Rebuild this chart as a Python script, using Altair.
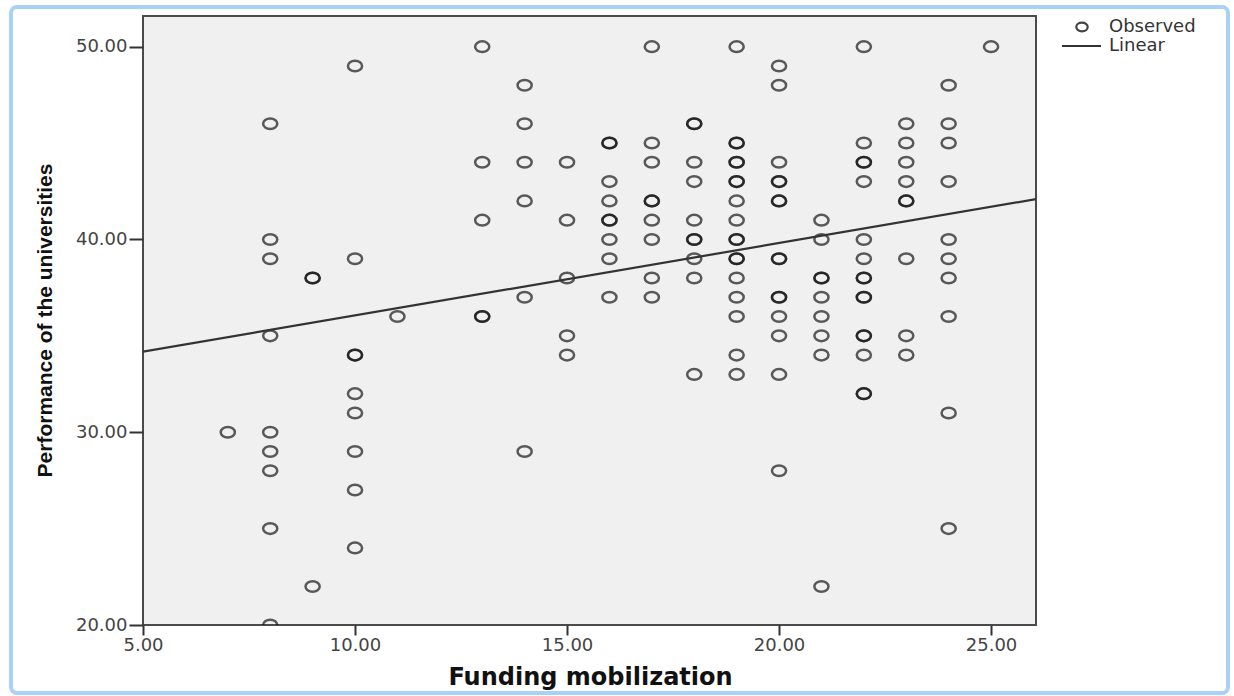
import altair as alt
import pandas as pd

# Observed cases (x = Funding mobilization, y = Performance); repeated pairs = overlapping cases
funding = (
    [7]
    + [8] * 9
    + [9] * 3
    + [10] * 9
    + [11]
    + [13] * 5
    + [14] * 6
    + [15] * 5
    + [16] * 9
    + [17] * 9
    + [18] * 10
    + [19] * 18
    + [20] * 15
    + [21] * 9
    + [22] * 16
    + [23] * 9
    + [24] * 10
    + [25]
)
performance = (
    [30]
    + [46, 40, 39, 35, 30, 29, 28, 25, 20]
    + [38, 38, 22]
    + [49, 39, 34, 34, 32, 31, 29, 27, 24]
    + [36]
    + [50, 44, 41, 36, 36]
    + [48, 46, 44, 42, 37, 29]
    + [44, 41, 38, 35, 34]
    + [45, 45, 43, 42, 41, 41, 40, 39, 37]
    + [50, 45, 44, 42, 42, 41, 40, 38, 37]
    + [46, 46, 44, 43, 41, 40, 40, 39, 38, 33]
    + [50, 45, 45, 44, 44, 43, 43, 42, 41, 40, 40, 39, 39, 38, 37, 36, 34, 33]
    + [49, 48, 44, 43, 43, 42, 42, 39, 39, 37, 37, 36, 35, 33, 28]
    + [41, 40, 38, 38, 37, 36, 35, 34, 22]
    + [50, 45, 44, 44, 43, 40, 39, 38, 38, 37, 37, 35, 35, 34, 32, 32]
    + [46, 45, 44, 43, 42, 42, 39, 35, 34]
    + [48, 46, 45, 43, 40, 39, 38, 36, 31, 25]
    + [50]
)

# Fitted linear line, read at the plot's left and right edges
linear_x = [5.0, 26.06]
linear_y = [34.18, 42.09]

x_ticks = [5, 10, 15, 20, 25]
y_ticks = [20, 30, 40, 50]

obs = pd.DataFrame({"funding": funding, "performance": performance})
lin = pd.DataFrame({"funding": linear_x, "performance": linear_y})

ellipse = "M -1 0 A 1 0.75 0 1 1 1 0 A 1 0.75 0 1 1 -1 0 Z"

x_enc = alt.X(
    "funding:Q",
    scale=alt.Scale(domain=[5, 26.06], nice=False, zero=False),
    axis=alt.Axis(
        values=x_ticks, format=".2f", title="Funding mobilization",
        grid=False, domain=False, tickSize=10, tickWidth=2, tickColor="#333",
        labelFont="DejaVu Sans", labelFontSize=18, labelColor="#444",
        labelPadding=1, labelFlush=False,
        titleFont="DejaVu Sans", titleFontSize=24, titleFontWeight="bold",
        titleColor="#111", titleX=447, titleY=52, titleBaseline="middle",
        titleAlign="center", titleAnchor="start",
    ),
)
y_enc = alt.Y(
    "performance:Q",
    scale=alt.Scale(domain=[20, 51.59], nice=False, zero=False),
    axis=alt.Axis(
        values=y_ticks, format=".2f", title="Performance of the universities",
        grid=False, domain=False, tickSize=14, tickWidth=2, tickColor="#333",
        labelFont="DejaVu Sans", labelFontSize=18, labelColor="#444",
        labelPadding=2, labelFlush=False,
        titleFont="Liberation Sans", titleFontSize=21, titleFontWeight="bold",
        titleColor="#111", titleX=-98, titleY=304, titleAngle=-90,
        titleBaseline="middle", titleAlign="center", titleAnchor="start",
    ),
)

points = alt.Chart(obs).mark_point(
    shape=ellipse, filled=False, size=200, strokeWidth=2.5,
    color="#111", opacity=0.68, clip=True,
).encode(x=x_enc, y=y_enc)

line = alt.Chart(lin).mark_line(color="#333", strokeWidth=2.2, clip=True).encode(
    x="funding:Q", y="performance:Q"
)

one = pd.DataFrame({"k": [0]})
leg_pt = alt.Chart(one).mark_point(
    shape=ellipse, filled=False, size=130, strokeWidth=2.2, color="#222", opacity=0.85
).encode(x=alt.value(939), y=alt.value(11))
leg_obs = alt.Chart(one).mark_text(
    text="Observed", align="left", baseline="middle", font="DejaVu Sans",
    fontSize=18, color="#333"
).encode(x=alt.value(966), y=alt.value(11))
leg_line = alt.Chart(one).mark_rule(color="#333", strokeWidth=2).encode(
    x=alt.value(919), x2=alt.value(958), y=alt.value(30)
)
leg_lin = alt.Chart(one).mark_text(
    text="Linear", align="left", baseline="middle", font="DejaVu Sans",
    fontSize=18, color="#333"
).encode(x=alt.value(966), y=alt.value(30))

frame = alt.Chart(one).mark_rect(
    fillOpacity=0, stroke="#a9d0f5", strokeWidth=4, cornerRadius=6
).encode(x=alt.value(-132), x2=alt.value(1085), y=alt.value(-9), y2=alt.value(677))

chart = alt.layer(frame, points, line, leg_pt, leg_obs, leg_line, leg_lin).properties(
    width=893, height=609,
    autosize=alt.AutoSizeParams(type="none"),
    padding={"left": 143, "top": 16, "right": 198, "bottom": 71},
    background="white",
).configure_view(fill="#f0f0f0", stroke="#4a4a4a", strokeWidth=2)

chart.save("out.html", embed_options={"renderer": "svg", "actions": False})
